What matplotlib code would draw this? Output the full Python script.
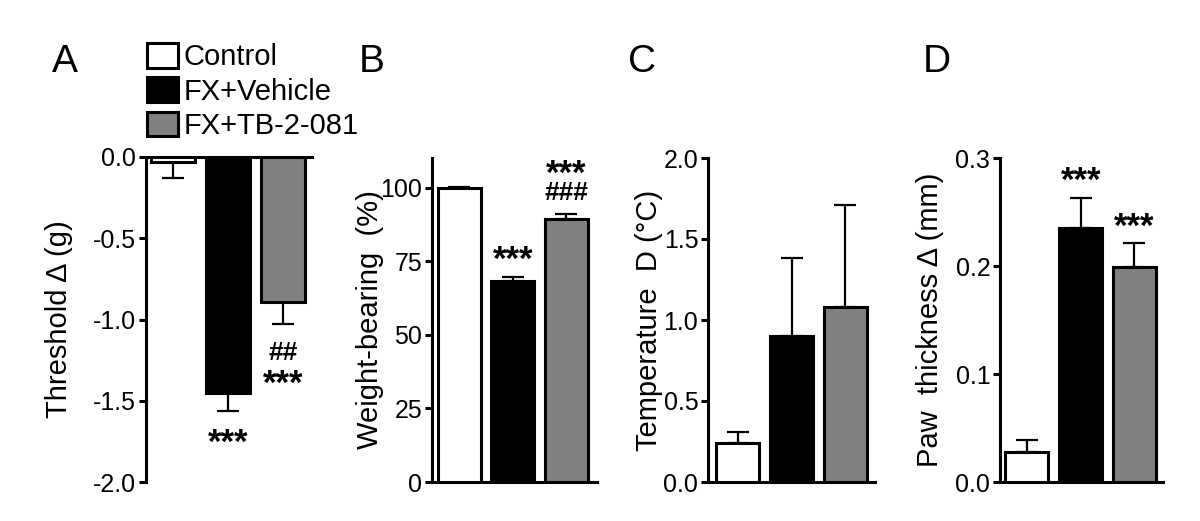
import numpy as np
import matplotlib.pyplot as plt

plt.rcParams['font.family'] = ['Liberation Sans', 'DejaVu Sans']

# --- Data ---
groups = ['Control', 'FX+Vehicle', 'FX+TB-2-081']
colors = ['white', 'black', '#808080']

threshold = [-0.03, -1.45, -0.89]
threshold_err = [0.10, 0.11, 0.14]

weight = [100.0, 68.4, 89.5]
weight_err = [0.3, 1.3, 1.6]

temperature = [0.24, 0.90, 1.08]
temperature_err = [0.07, 0.48, 0.63]

paw = [0.028, 0.235, 0.199]
paw_err = [0.011, 0.028, 0.022]

W, H = 1200, 521
fig = plt.figure(figsize=(12, 5.21), dpi=100)

def px_axes(left, right, top=157, bottom=482):
    return fig.add_axes([left / W, (H - bottom) / H, (right - left) / W, (bottom - top) / H])

ax_a = px_axes(146, 312)
ax_b = px_axes(432, 597, top=158)
ax_c = px_axes(708, 875, top=158)
ax_d = px_axes(1000, 1163, top=158)

x = np.arange(3)
lw_edge = 2.2


def draw(ax, vals, errs, down=False):
    bars = ax.bar(x, vals, width=0.8, color=colors, edgecolor='black',
                  linewidth=lw_edge, zorder=3, label=groups)
    if down:
        yerr = [errs, [0, 0, 0]]
    else:
        yerr = [[0, 0, 0], errs]
    ax.errorbar(x, vals, yerr=yerr, fmt='none', ecolor='black',
                elinewidth=1.6, capsize=8, capthick=1.6, zorder=2)
    ax.set_xticks([])
    ax.tick_params(axis='y', direction='out', length=5, width=2.2,
                   labelsize=18, pad=2)
    for s in ax.spines.values():
        s.set_linewidth(2.2)
    return bars


def stars(ax, xpos, ypos, s='***'):
    # ypos is where the middle of the glyphs should sit
    fs = 25 if s.startswith('*') else 19
    shift = -0.45 * fs if s.startswith('*') else -0.36 * fs
    ax.annotate(s, (xpos, ypos), xytext=(0, shift), textcoords='offset points',
                ha='center', va='baseline', fontsize=fs, fontweight='bold')


# --- A: Threshold ---
bars = draw(ax_a, threshold, threshold_err, down=True)
ax_a.set_ylim(-2.0, 0.0)
ax_a.set_xlim(-0.49, 2.53)
ax_a.set_yticks([0.0, -0.5, -1.0, -1.5, -2.0])
ax_a.set_yticklabels(['0.0', '-0.5', '-1.0', '-1.5', '-2.0'])
ax_a.spines['right'].set_visible(False)
ax_a.spines['bottom'].set_visible(False)
ax_a.set_ylabel('Threshold \u0394 (g)', fontsize=21)
ax_a.yaxis.set_label_coords(-0.44, 0.5)
stars(ax_a, 1, -1.723)
stars(ax_a, 2, -1.188, '##')
stars(ax_a, 2, -1.36)

# --- B: Weight-bearing ---
draw(ax_b, weight, weight_err)
ax_b.set_ylim(0, 110.2)
ax_b.set_xlim(-0.51, 2.57)
ax_b.set_yticks([0, 25, 50, 75, 100])
ax_b.spines['right'].set_visible(False)
ax_b.spines['top'].set_visible(False)
ax_b.set_ylabel('Weight-bearing  (%)', fontsize=21)
ax_b.yaxis.set_label_coords(-0.29, 0.5)
stars(ax_b, 1, 77.6)
stars(ax_b, 2, 106.8)
stars(ax_b, 2, 99.0, '###')

# --- C: Temperature ---
draw(ax_c, temperature, temperature_err)
ax_c.set_ylim(0, 2.0)
ax_c.set_xlim(-0.55, 2.55)
ax_c.set_yticks([0.0, 0.5, 1.0, 1.5, 2.0])
ax_c.set_yticklabels(['0.0', '0.5', '1.0', '1.5', '2.0'])
ax_c.spines['right'].set_visible(False)
ax_c.spines['top'].set_visible(False)
ax_c.set_ylabel('Temperature  D (\u00b0C)', fontsize=21)
ax_c.yaxis.set_label_coords(-0.27, 0.5)

# --- D: Paw thickness ---
draw(ax_d, paw, paw_err)
ax_d.set_ylim(0, 0.3)
ax_d.set_xlim(-0.5, 2.53)
ax_d.set_yticks([0.0, 0.1, 0.2, 0.3])
ax_d.set_yticklabels(['0.0', '0.1', '0.2', '0.3'])
ax_d.spines['right'].set_visible(False)
ax_d.spines['top'].set_visible(False)
ax_d.set_ylabel('Paw  thickness \u0394 (mm)', fontsize=21)
ax_d.yaxis.set_label_coords(-0.344, 0.5)
stars(ax_d, 1, 0.284)
stars(ax_d, 2, 0.2417)

# --- Panel letters ---
for letter, xp in zip('ABCD', [65, 372, 642, 937]):
    fig.text(xp / W, 1 - 62 / H, letter, ha='center', va='center', fontsize=28)

# --- Legend ---
fig.legend(bars, groups, loc='upper left', bbox_to_anchor=(147 / W, 1 - 43 / H),
           frameon=False, fontsize=21, borderpad=0, borderaxespad=0,
           handlelength=1.07, handleheight=0.93, handletextpad=0.17,
           labelspacing=0.2)

fig.savefig('out.png', dpi=100)
